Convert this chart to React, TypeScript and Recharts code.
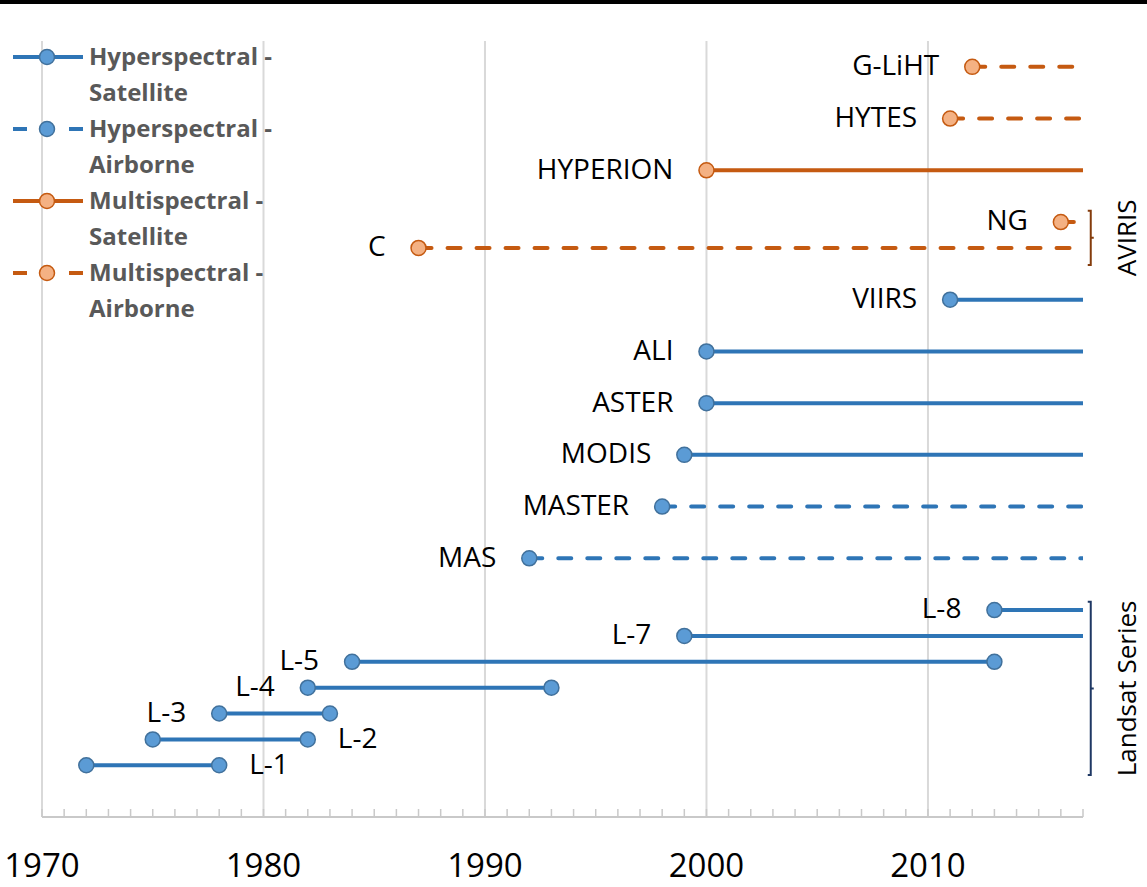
import React from 'react';
import { ComposedChart, Line, XAxis, YAxis, ReferenceLine, Legend } from 'recharts';

// one row per instrument, top to bottom
const instruments = ['G-LiHT', 'HYTES', 'HYPERION', 'NG', 'C', 'VIIRS', 'ALI', 'ASTER', 'MODIS', 'MASTER', 'MAS', 'L-8', 'L-7', 'L-5', 'L-4', 'L-3', 'L-2', 'L-1'];
const rowLevel = [28, 26, 24, 22, 21, 19, 17, 15, 13, 11, 9, 7, 6, 5, 4, 3, 2, 1];
const startYear = [2012, 2011, 2000, 2016, 1987, 2011, 2000, 2000, 1999, 1998, 1992, 2013, 1999, 1984, 1982, 1978, 1975, 1972];
const endYear = [2017, 2017, 2017, 2017, 2017, 2017, 2017, 2017, 2017, 2017, 2017, 2017, 2017, 2013, 1993, 1983, 1982, 1978];
// index into categories
const categoryOf = [3, 3, 2, 3, 3, 0, 0, 0, 0, 1, 1, 0, 0, 0, 0, 0, 0, 0];
const labelAfterEnd = ['L-2', 'L-1'];
const presentYear = 2017;

const categories = ['Hyperspectral - Satellite', 'Hyperspectral - Airborne', 'Multispectral - Satellite', 'Multispectral - Airborne'];
const lineColor = ['#2E75B6', '#2E75B6', '#C55A11', '#C55A11'];
const markerFill = ['#5B9BD5', '#5B9BD5', '#F4B183', '#F4B183'];
const markerStroke = ['#41719C', '#41719C', '#C55A11', '#C55A11'];
const dashed = [false, true, false, true];

const years: number[] = [];
for (let y = 1970; y <= presentYear; y++) years.push(y);
const decades = [1970, 1980, 1990, 2000, 2010];

// group brackets on the right
const bracketNames = ['AVIRIS', 'Landsat Series'];
const bracketTop = [22.44, 7.32];
const bracketBottom = [20.34, 0.62];
const bracketColor = ['#843C0C', '#1F3864'];
const bracketYear = 2017.35;

const FONT = "'Open Sans', 'Liberation Sans', sans-serif";

const YearTick = (props: any) => {
  const { x, y, payload } = props;
  const yr = payload.value;
  return (
    <g>
      <line x1={x} x2={x} y1={y - 8} y2={y} stroke="#c9c9c9" strokeWidth={1.5} />
      {yr % 10 === 0 && (
        <text x={x} y={y + 60} textAnchor="middle" fontSize={33} fill="#000" fontFamily={FONT}>
          {yr}
        </text>
      )}
    </g>
  );
};

const makeDot = (row: number) => (p: any) => {
  const { cx, cy, index } = p;
  const cat = categoryOf[row];
  const after = labelAfterEnd.includes(instruments[row]);
  const showMarker = index === 0 || endYear[row] < presentYear;
  const showLabel = after ? index === 1 : index === 0;
  return (
    <g key={`dot-${row}-${index}`}>
      {showMarker && (
        <circle cx={cx} cy={cy} r={7.5} fill={markerFill[cat]} stroke={markerStroke[cat]} strokeWidth={1.5} />
      )}
      {showLabel && (
        <text
          x={after ? cx + 30 : cx - 33}
          y={cy}
          dy="0.3em"
          textAnchor={after ? 'start' : 'end'}
          fontSize={28}
          fill="#000"
          fontFamily={FONT}
        >
          {instruments[row]}
        </text>
      )}
    </g>
  );
};

const makeBracket = (i: number) => (p: any) => {
  const { x1, y1, y2 } = p;
  const top = Math.min(y1, y2);
  const bottom = Math.max(y1, y2);
  const mid = (top + bottom) / 2;
  const c = bracketColor[i];
  return (
    <g>
      <path
        d={`M${x1 - 3},${top} L${x1},${top} L${x1},${bottom} L${x1 - 3},${bottom} M${x1},${mid} L${x1 + 3},${mid}`}
        stroke={c}
        strokeWidth={2}
        fill="none"
      />
      <text
        x={x1 + 45}
        y={mid}
        transform={`rotate(-90, ${x1 + 45}, ${mid})`}
        textAnchor="middle"
        fontSize={26}
        fill="#000"
        fontFamily={FONT}
      >
        {bracketNames[i]}
      </text>
    </g>
  );
};

const LegendBox = () => (
  <svg width={290} height={290} style={{ display: 'block' }}>
    {categories.map((c, i) => {
      const cy = 19 + 72 * i;
      const parts = c.split(' - ');
      return (
        <g key={c}>
          {dashed[i] ? (
            <g stroke={lineColor[i]} strokeWidth={4}>
              <line x1={13} x2={27} y1={cy} y2={cy} />
              <line x1={40} x2={55} y1={cy} y2={cy} />
              <line x1={69} x2={83} y1={cy} y2={cy} />
            </g>
          ) : (
            <line x1={13} x2={83} y1={cy} y2={cy} stroke={lineColor[i]} strokeWidth={4} />
          )}
          <circle cx={47} cy={cy} r={7.5} fill={markerFill[i]} stroke={markerStroke[i]} strokeWidth={1.5} />
          <text x={89} y={cy} dy="0.35em" fontSize={24} fontWeight="bold" fill="#595959" fontFamily={FONT}>
            {parts[0]} -
          </text>
          <text x={89} y={cy + 36} dy="0.35em" fontSize={24} fontWeight="bold" fill="#595959" fontFamily={FONT}>
            {parts[1]}
          </text>
        </g>
      );
    })}
  </svg>
);

export default function App() {
  return (
    <div style={{ position: 'absolute', top: 0, left: 0, width: 1147, height: 887, background: '#fff', fontFamily: FONT }}>
      <div style={{ position: 'absolute', top: 0, left: 0, width: 1147, height: 4, background: '#000' }} />
      <ComposedChart width={1147} height={887} margin={{ top: 41, right: 64, bottom: 0, left: 42 }}>
        <XAxis
          type="number"
          dataKey="year"
          domain={[1970, presentYear]}
          ticks={years}
          interval={0}
          tickSize={0}
          tickMargin={0}
          tickLine={false}
          tick={<YearTick />}
          axisLine={{ stroke: '#c9c9c9', strokeWidth: 2 }}
          height={70}
          allowDataOverflow
        />
        <YAxis type="number" dataKey="level" domain={[-1, 29]} hide />
        {decades.map((d) => (
          <ReferenceLine key={d} x={d} stroke="#d9d9d9" strokeWidth={2} />
        ))}
        {instruments.map((name, row) => {
          const cat = categoryOf[row];
          return (
            <Line
              key={name}
              name={name}
              data={[
                { year: startYear[row], level: rowLevel[row] },
                { year: endYear[row], level: rowLevel[row] },
              ]}
              dataKey="level"
              stroke={lineColor[cat]}
              strokeWidth={4}
              strokeDasharray={dashed[cat] ? '13 16' : undefined}
              strokeLinecap={dashed[cat] ? 'round' : 'butt'}
              dot={makeDot(row)}
              activeDot={false}
              legendType="none"
              isAnimationActive={false}
            />
          );
        })}
        {bracketNames.map((b, i) => (
          <ReferenceLine
            key={b}
            segment={[
              { x: bracketYear, y: bracketTop[i] },
              { x: bracketYear, y: bracketBottom[i] },
            ]}
            ifOverflow="visible"
            shape={makeBracket(i)}
          />
        ))}
        <Legend
          layout="vertical"
          align="center"
          verticalAlign="middle"
          wrapperStyle={{ top: 38, left: 0, width: 290 }}
          content={() => <LegendBox />}
        />
      </ComposedChart>
    </div>
  );
}
